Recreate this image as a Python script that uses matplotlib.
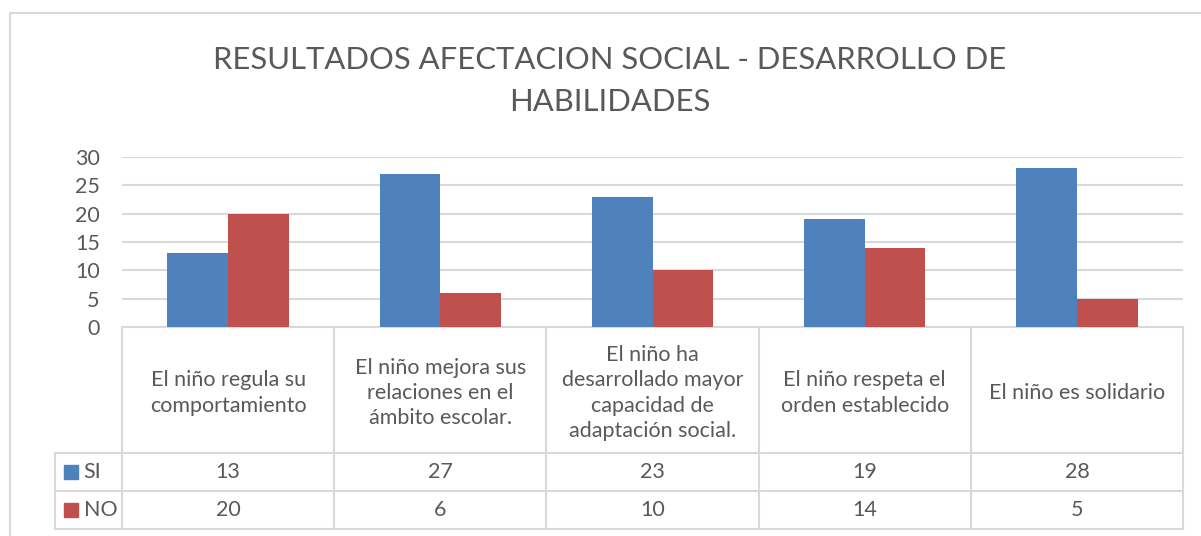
import matplotlib.pyplot as plt
from matplotlib.patches import Rectangle

categories = [
    "El niño regula su\ncomportamiento",
    "El niño mejora sus\nrelaciones en el\námbito escolar.",
    "El niño ha\ndesarrollado mayor\ncapacidad de\nadaptación social.",
    "El niño respeta el\norden establecido",
    "El niño es solidario",
]
series_names = ["SI", "NO"]
si_values = [13, 27, 23, 19, 28]
no_values = [20, 6, 10, 14, 5]
y_ticks = [0, 5, 10, 15, 20, 25, 30]

BLUE = "#4f81bd"
RED = "#c0504d"
TEXT = "#595959"
LINE = "#d9d9d9"
FONT = "Lato"

W, H = 1201, 536
fig = plt.figure(figsize=(W / 100, H / 100), dpi=100)

# outer chart frame
fig.patches.append(Rectangle((10 / W, -0.1), 1.2, (H - 13) / H + 0.1,
                             transform=fig.transFigure, fill=False,
                             edgecolor=LINE, linewidth=1.5))

fig.text(0.508, (H - 81) / H, "RESULTADOS AFECTACION SOCIAL - DESARROLLO DE\nHABILIDADES",
         ha="center", va="center", fontsize=22.3, color=TEXT, family=FONT,
         linespacing=1.6)

# plot area in pixels: x 122..1183, y 157..327
ax = fig.add_axes([122 / W, (H - 327) / H, (1183 - 122) / W, 170 / H])
n = len(categories)
x = list(range(n))
bw = 0.286
ax.bar([i - bw / 2 for i in x], si_values, width=bw, color=BLUE, zorder=3)
ax.bar([i + bw / 2 for i in x], no_values, width=bw, color=RED, zorder=3)

ax.set_xlim(-0.5, n - 0.5)
ax.set_ylim(0, 30)
ax.set_yticks(y_ticks)
ax.set_yticklabels([str(v) for v in y_ticks], family=FONT, fontsize=15.5, color=TEXT)
ax.tick_params(axis="y", length=0, pad=16)
ax.set_xticks([])
ax.grid(axis="y", color=LINE, linewidth=1.5, zorder=0)
for s in ax.spines.values():
    s.set_visible(False)

# data table under the axes (x in data units, y in axes fraction)
tr = ax.get_xaxis_transform()
px = 1 / 170.0
y_top = 0.0
y_head = -(453 - 327) * px
y_si = -(491 - 327) * px
y_no = -(529 - 327) * px
x_leg = -0.5 + (55 - 122) / ((1183 - 122) / n)

line_kw = dict(color=LINE, linewidth=1.5, transform=tr, clip_on=False, zorder=1)
ax.plot([-0.5, n - 0.5], [y_top, y_top], **line_kw)
for yy in (y_head, y_si, y_no):
    ax.plot([x_leg, n - 0.5], [yy, yy], **line_kw)
for k in range(n + 1):
    ax.plot([k - 0.5, k - 0.5], [y_top, y_no], **line_kw)
ax.plot([x_leg, x_leg], [y_head, y_no], **line_kw)

fs = 15.5
for i, cat in enumerate(categories):
    ax.text(i, (y_top + y_head) / 2 - 3 * px, cat, transform=tr, ha="center", va="center",
            fontsize=fs, color=TEXT, family=FONT, linespacing=1.32, clip_on=False)
rows = [(si_values, BLUE, y_head, y_si), (no_values, RED, y_si, y_no)]
for name, (vals, col, ya, yb) in zip(series_names, rows):
    ym = (ya + yb) / 2
    for i, v in enumerate(vals):
        ax.text(i, ym, str(v), transform=tr, ha="center", va="center",
                fontsize=fs, color=TEXT, family=FONT, clip_on=False)
    ax.add_patch(Rectangle((x_leg + 0.043, ym - 7 * px), 0.064, 14 * px,
                           transform=tr, color=col, clip_on=False))
    ax.text(x_leg + 0.135, ym, name, transform=tr, ha="left", va="center",
            fontsize=fs, color=TEXT, family=FONT, clip_on=False)

fig.savefig("out.png", dpi=100)
